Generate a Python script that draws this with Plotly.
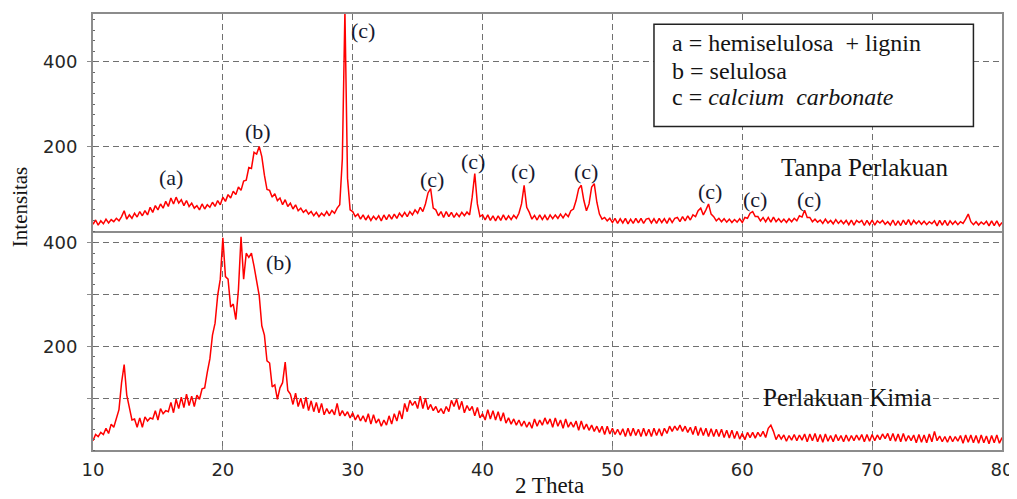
import plotly.graph_objects as go

# 2-theta sampling grid (degrees), step 0.2 from 10 to 80
two_theta = [round(10 + 0.2 * i, 1) for i in range(351)]

# Tanpa Perlakuan (untreated) intensities
tanpa_perlakuan = [
    16, 26, 14, 24, 17, 28, 19, 27, 22, 30,
    24, 34, 48, 28, 38, 30, 42, 33, 46, 36,
    48, 38, 56, 44, 60, 50, 64, 54, 70, 58,
    78, 64, 80, 66, 74, 60, 72, 58, 66, 54,
    60, 50, 64, 52, 62, 56, 68, 58, 72, 62,
    80, 70, 86, 78, 94, 86, 104, 96, 118, 120,
    150, 148, 186, 182, 200, 176, 132, 98, 96, 80,
    88, 72, 78, 62, 74, 58, 66, 52, 62, 48,
    54, 44, 50, 40, 46, 36, 44, 34, 42, 36,
    46, 36, 48, 42, 54, 62, 170, 520, 125, 50,
    46, 34, 40, 28, 38, 26, 36, 25, 35, 27,
    36, 24, 38, 27, 39, 28, 40, 30, 42, 34,
    44, 34, 46, 38, 50, 42, 56, 46, 64, 90,
    100, 54, 50, 36, 46, 32, 46, 34, 44, 32,
    42, 34, 44, 36, 45, 38, 80, 136, 64, 34,
    38, 26, 38, 25, 36, 24, 36, 25, 38, 26,
    36, 27, 37, 30, 42, 64, 108, 56, 44, 28,
    37, 26, 38, 27, 37, 26, 38, 29, 38, 30,
    40, 31, 41, 34, 48, 52, 72, 100, 108, 72,
    48, 64, 104, 112, 68, 40, 28, 32, 24, 30,
    20, 30, 18, 29, 19, 30, 17, 28, 18, 30,
    19, 30, 18, 28, 30, 19, 29, 18, 30, 20,
    29, 18, 31, 20, 30, 32, 22, 34, 24, 36,
    26, 38, 34, 48, 54, 38, 50, 64, 40, 34,
    24, 30, 22, 29, 21, 28, 20, 27, 21, 29,
    20, 32, 30, 42, 46, 34, 34, 24, 32, 22,
    32, 21, 33, 22, 29, 21, 28, 20, 29, 22,
    30, 24, 36, 33, 49, 32, 32, 22, 28, 21,
    26, 18, 28, 19, 25, 17, 27, 18, 25, 17,
    25, 15, 26, 14, 25, 20, 25, 13, 25, 15,
    26, 14, 24, 19, 25, 16, 22, 14, 26, 13,
    24, 13, 26, 15, 27, 14, 25, 17, 24, 16,
    23, 15, 22, 17, 24, 12, 25, 14, 25, 13,
    24, 16, 23, 15, 22, 18, 28, 40, 22, 15,
    22, 14, 21, 16, 23, 12, 24, 13, 24, 12,
    20,
]

# Perlakuan Kimia (chemically treated) intensities
perlakuan_kimia = [
    18, 30, 26, 34, 30, 42, 32, 50, 44, 60,
    78, 130, 165, 106, 82, 58, 60, 44, 62, 44,
    64, 56, 62, 60, 76, 58, 80, 70, 76, 74,
    92, 72, 98, 80, 102, 82, 108, 86, 104, 84,
    106, 98, 118, 120, 150, 176, 222, 245, 298, 330,
    410, 335, 330, 276, 282, 252, 310, 412, 330, 380,
    372, 380, 355, 322, 298, 240, 222, 172, 168, 122,
    126, 98, 120, 130, 170, 115, 108, 88, 110, 84,
    100, 80, 102, 76, 95, 74, 92, 72, 90, 68,
    80, 70, 78, 68, 90, 66, 76, 66, 74, 62,
    72, 58, 68, 56, 66, 54, 70, 50, 68, 52,
    60, 46, 58, 48, 66, 50, 70, 56, 76, 60,
    90, 74, 96, 86, 94, 80, 104, 80, 100, 78,
    88, 76, 84, 72, 80, 70, 84, 74, 96, 84,
    98, 78, 94, 72, 86, 76, 84, 66, 82, 62,
    70, 58, 78, 60, 76, 58, 74, 56, 72, 52,
    62, 50, 60, 48, 58, 46, 56, 44, 54, 42,
    60, 46, 58, 48, 62, 50, 60, 44, 62, 46,
    58, 42, 60, 44, 54, 44, 56, 38, 56, 40,
    50, 38, 48, 36, 46, 34, 46, 30, 46, 31,
    42, 30, 40, 29, 41, 26, 42, 27, 42, 28,
    40, 26, 42, 27, 40, 26, 42, 28, 41, 27,
    42, 32, 46, 36, 46, 38, 48, 36, 46, 34,
    44, 30, 46, 28, 43, 28, 42, 26, 41, 26,
    40, 26, 40, 24, 38, 23, 38, 22, 36, 21,
    32, 20, 34, 24, 34, 23, 34, 26, 36, 24,
    42, 48, 36, 20, 30, 21, 29, 17, 28, 19,
    30, 18, 29, 19, 31, 16, 31, 18, 32, 16,
    30, 15, 31, 17, 28, 16, 30, 18, 28, 16,
    29, 17, 28, 18, 29, 19, 30, 16, 30, 17,
    30, 18, 29, 20, 31, 22, 32, 18, 32, 17,
    31, 16, 32, 17, 28, 18, 29, 14, 30, 15,
    29, 14, 31, 16, 36, 18, 27, 16, 26, 15,
    27, 16, 26, 17, 28, 13, 29, 15, 29, 14,
    28, 13, 29, 14, 27, 12, 28, 14, 29, 13,
    24,
]

x_ticks = [10, 20, 30, 40, 50, 60, 70, 80]
top_y_ticks = [200, 400]
bottom_y_ticks = [100, 200, 300, 400]
bottom_y_labels = ["", "200", "", "400"]

# peak labels (top panel)
top_peak_x = [16.0, 22.7, 30.8, 36.1, 39.25, 43.15, 48.0, 57.5, 61.0, 65.1]
top_peak_y = [127, 235, 475, 122, 165, 141, 141, 94, 75, 75]
top_peak_txt = ["(a)", "(b)", "(c)", "(c)", "(c)", "(c)", "(c)", "(c)", "(c)", "(c)"]

legend_lines = ["a = hemiselulosa&nbsp;&nbsp;+ lignin", "b = selulosa",
                "c = <i>calcium&nbsp;&nbsp;carbonate</i>"]
legend_y = [444, 378, 316]

RED = "#ff0000"
GRID = "#707070"
FRAME = "#8c8c8c"
SERIF = "Liberation Serif"
TXT = "#141414"
TICKFONT = dict(family="DejaVu Sans", size=18, color="#262626")

fig = go.Figure()
fig.add_trace(go.Scatter(x=two_theta, y=perlakuan_kimia, mode="lines",
                         line=dict(color=RED, width=1.5), xaxis="x", yaxis="y",
                         showlegend=False))
fig.add_trace(go.Scatter(x=two_theta, y=tanpa_perlakuan, mode="lines",
                         line=dict(color=RED, width=1.5), xaxis="x2", yaxis="y2",
                         showlegend=False))

# page body has an 8px margin: the figure is placed at (8, 8)
W, H = 1009, 491
split = 220 / 438
common_x = dict(range=[10, 80], tickvals=x_ticks, showgrid=True, gridcolor=GRID,
                griddash="6px,4px", gridwidth=1.2, showline=True,
                linecolor=FRAME, linewidth=2, zeroline=False,
                ticks="inside", ticklen=4, tickcolor=FRAME)
common_y = dict(showgrid=True, gridcolor=GRID, griddash="6px,4px", gridwidth=1.2,
                showline=True, mirror=True, linecolor=FRAME, linewidth=2,
                zeroline=False, ticks="outside", ticklen=4, tickcolor=FRAME,
                tickfont=TICKFONT, ticklabelstandoff=6,
                minor=dict(ticks="inside", ticklen=2, tickcolor="#666", showgrid=False))

fig.update_layout(
    width=W, height=H,
    margin=dict(l=85, r=14, t=4, b=49),
    paper_bgcolor="white", plot_bgcolor="white",
    xaxis=dict(common_x, anchor="y", domain=[0, 1], tickfont=TICKFONT,
               ticklabelstandoff=2, mirror=False),
    xaxis2=dict(common_x, anchor="y2", matches="x", showticklabels=False,
                mirror=True),
    yaxis=dict(common_y, domain=[0, split], range=[0, 423],
               tickvals=bottom_y_ticks, ticktext=bottom_y_labels,
               minor_dtick=20),
    yaxis2=dict(common_y, domain=[split, 1], range=[0, 513],
                tickvals=top_y_ticks, minor_dtick=25),
)

annos = []
for xv, yv, t in zip(top_peak_x, top_peak_y, top_peak_txt):
    annos.append(dict(x=xv, y=yv, xref="x2", yref="y2", text=t, showarrow=False,
                      font=dict(family=SERIF, size=22, color="#161a30")))
annos.append(dict(x=24.3, y=362, xref="x", yref="y", text="(b)", showarrow=False,
                  font=dict(family=SERIF, size=22, color="#161a30")))
annos.append(dict(x=69.4, y=150, xref="x2", yref="y2", text="Tanpa Perlakuan",
                  showarrow=False, font=dict(family=SERIF, size=25, color=TXT)))
annos.append(dict(x=68.1, y=102, xref="x", yref="y", text="Perlakuan Kimia",
                  showarrow=False, font=dict(family=SERIF, size=25, color=TXT)))
for t, yv in zip(legend_lines, legend_y):
    annos.append(dict(x=54.4, y=yv, xref="x2", yref="y2", text=t, xanchor="left",
                      showarrow=False, font=dict(family=SERIF, size=24, color=TXT)))
annos.append(dict(x=(20 - 93) / 910, y=(450 - 206) / 438, xref="paper", yref="paper",
                  text="Intensitas", textangle=-90, showarrow=False,
                  xanchor="center", yanchor="middle",
                  font=dict(family=SERIF, size=21, color=TXT)))
annos.append(dict(x=(550 - 93) / 910, y=(450 - 486) / 438, xref="paper", yref="paper",
                  text="2 Theta", xanchor="center", yanchor="middle", showarrow=False,
                  font=dict(family=SERIF, size=23, color=TXT)))
fig.update_layout(annotations=annos)

fig.add_shape(type="rect", xref="x2", yref="y2", x0=53.2, x1=77.8, y0=247, y1=489,
              line=dict(color="#222", width=1.5), fillcolor="white", layer="above")

fig.write_html("out.html")
